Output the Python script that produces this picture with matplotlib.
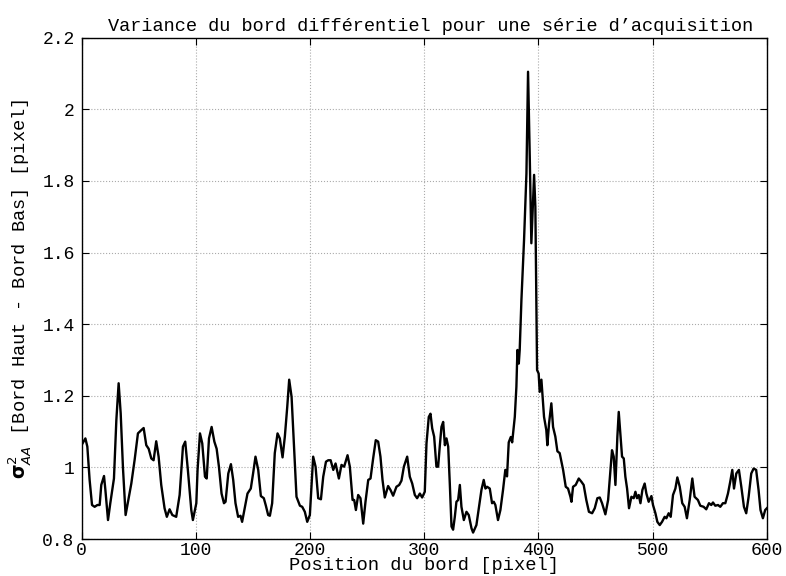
import matplotlib
matplotlib.use('Agg')
import matplotlib.pyplot as plt

# valeurs (position du bord, variance)
position = [
    0, 3.4, 5.1, 7.1, 9.2, 11.5, 13.9, 15.9, 17.3, 19.7, 20.9, 23.2, 25.2, 28.4, 30.5, 32.5, 34.3,
    36.3, 38.6, 40.7, 43.6, 46.5, 49.4, 52.3, 54.4, 56.7, 58.8, 61.1, 63.1, 65.4, 67.5, 69.8, 72.7,
    74.7, 77.1, 79.5, 82.9, 85.9, 88.8, 90.8, 93.1, 96.1, 97.5, 100.5, 101.6, 103.7, 105.7, 108.1,
    109.6, 111.6, 113.9, 116.3, 118.3, 120.3, 122.6, 124.7, 126.1, 128.5, 130.8, 132.8, 134.8,
    137.1, 139.2, 140.6, 142.9, 145.3, 148.2, 150.2, 152.3, 154.7, 157.0, 159.6, 161.4, 163.4,
    164.9, 166.9, 169.2, 171.6, 173.6, 176.0, 178.0, 180.1, 181.8, 183.9, 185.9, 188.2, 191.2,
    193.2, 195.5, 197.6, 199.9, 202.8, 204.9, 207.2, 209.6, 211.6, 214.0, 216.0, 218.1, 220.4,
    222.4, 225.3, 227.6, 229.9, 232.9, 234.9, 237.3, 238.7, 240.2, 242.2, 244.2, 246.6, 248.6,
    251.0, 253.0, 255.3, 257.6, 259.7, 261.7, 263.5, 265.5, 268.4, 270.5, 272.8, 275.7, 278.1,
    280.1, 282.2, 285.1, 287.4, 289.5, 291.8, 293.8, 296.2, 298.2, 300.5, 302.0, 304.0, 305.5,
    307.0, 308.7, 310.7, 312.2, 313.7, 315.1, 316.6, 318.1, 319.5, 321.0, 322.4, 323.9, 325.3,
    326.8, 328.2, 329.7, 331.2, 332.6, 334.7, 337.0, 339.0, 341.4, 342.8, 345.7, 347.8, 350.1,
    352.1, 353.6, 355.0, 357.4, 359.4, 360.9, 362.3, 364.6, 366.7, 369.0, 371.0, 372.5, 374.0,
    375.8, 377.0, 379.3, 380.7, 381.6, 382.8, 383.6, 385.1, 387.4, 389.5, 390.9, 392.4, 393.8,
    396.2, 397.3, 398.8, 400.2, 401.1, 402.6, 404.9, 406.9, 407.8, 409.3, 411.3, 412.8, 414.8,
    416.6, 418.6, 421.6, 423.9, 425.9, 428.0, 428.9, 430.3, 432.6, 435.3, 437.6, 439.6, 441.9,
    444.2, 447.0, 449.3, 451.6, 453.7, 455.7, 458.6, 461.0, 462.4, 464.4, 465.9, 467.4, 469.1,
    470.3, 471.7, 473.2, 474.7, 476.1, 477.6, 479.3, 481.4, 483.4, 484.9, 486.3, 487.8, 489.3,
    491.0, 493.0, 494.5, 496.5, 498.9, 500.3, 502.4, 504.1, 506.2, 508.2, 510.5, 512.0, 514.0,
    515.8, 517.8, 519.9, 521.6, 523.7, 525.9, 528.0, 530.0, 532.4, 534.7, 536.7, 539.6, 541.7,
    544.6, 546.9, 549.3, 551.3, 552.8, 554.8, 557.2, 559.2, 561.5, 563.6, 565.9, 567.9, 569.7,
    571.2, 573.2, 575.5, 577.6, 579.9, 581.9, 584.0, 586.3, 588.4, 590.6, 592.7, 594.4, 596.5,
    598.5, 600.0,
]
variance = [
    1.062, 1.081, 1.058, 0.965, 0.895, 0.890, 0.895, 0.895, 0.951, 0.976, 0.937, 0.853, 0.900,
    0.969, 1.132, 1.235, 1.151, 0.998, 0.867, 0.904, 0.955, 1.021, 1.095, 1.104, 1.110, 1.062,
    1.052, 1.025, 1.020, 1.073, 1.030, 0.951, 0.886, 0.862, 0.883, 0.867, 0.862, 0.923, 1.058,
    1.072, 0.993, 0.881, 0.853, 0.900, 0.993, 1.095, 1.067, 0.974, 0.969, 1.081, 1.113, 1.072,
    1.052, 1.002, 0.927, 0.900, 0.904, 0.983, 1.009, 0.965, 0.900, 0.862, 0.865, 0.848, 0.886,
    0.927, 0.941, 0.983, 1.030, 0.993, 0.920, 0.914, 0.893, 0.867, 0.865, 0.900, 1.040, 1.095,
    1.081, 1.028, 1.086, 1.169, 1.245, 1.197, 1.067, 0.918, 0.893, 0.890, 0.876, 0.848, 0.867,
    1.030, 1.002, 0.914, 0.911, 0.974, 1.016, 1.020, 1.020, 0.993, 1.011, 0.969, 1.007, 1.002,
    1.034, 1.002, 0.909, 0.909, 0.881, 0.923, 0.914, 0.843, 0.904, 0.965, 0.969, 1.025, 1.076,
    1.072, 1.030, 0.965, 0.916, 0.948, 0.937, 0.921, 0.946, 0.951, 0.963, 1.002, 1.030, 0.974,
    0.955, 0.923, 0.914, 0.927, 0.916, 0.932, 1.067, 1.141, 1.150, 1.109, 1.086, 1.002, 1.002,
    1.062, 1.113, 1.127, 1.062, 1.081, 1.058, 0.955, 0.835, 0.826, 0.862, 0.904, 0.909, 0.951,
    0.890, 0.853, 0.876, 0.867, 0.830, 0.818, 0.839, 0.886, 0.937, 0.965, 0.941, 0.946, 0.941,
    0.900, 0.904, 0.895, 0.853, 0.881, 0.937, 0.993, 0.975, 1.070, 1.085, 1.070, 1.141, 1.225,
    1.328, 1.290, 1.328, 1.467, 1.635, 1.821, 2.105, 1.868, 1.626, 1.817, 1.728, 1.272, 1.262,
    1.211, 1.245, 1.141, 1.104, 1.062, 1.123, 1.179, 1.113, 1.086, 1.045, 1.040, 0.993, 0.946,
    0.941, 0.918, 0.904, 0.946, 0.951, 0.969, 0.960, 0.951, 0.909, 0.876, 0.872, 0.886, 0.914,
    0.916, 0.900, 0.869, 0.909, 0.965, 1.048, 1.030, 0.951, 1.086, 1.155, 1.095, 1.030, 1.025,
    0.974, 0.941, 0.886, 0.918, 0.914, 0.932, 0.914, 0.923, 0.900, 0.937, 0.955, 0.927, 0.904,
    0.920, 0.895, 0.872, 0.848, 0.839, 0.848, 0.862, 0.858, 0.872, 0.862, 0.923, 0.941, 0.972,
    0.946, 0.900, 0.890, 0.858, 0.909, 0.969, 0.918, 0.909, 0.893, 0.890, 0.883, 0.900, 0.895,
    0.902, 0.893, 0.895, 0.890, 0.900, 0.900, 0.927, 0.960, 0.993, 0.941, 0.983, 0.993, 0.946,
    0.890, 0.872, 0.918, 0.983, 0.997, 0.993, 0.937, 0.881, 0.858, 0.881, 0.886,
]
xticks = [0, 100, 200, 300, 400, 500, 600]
yticks = [0.8, 1.0, 1.2, 1.4, 1.6, 1.8, 2.0, 2.2]
ytick_labels = ['0.8', '1', '1.2', '1.4', '1.6', '1.8', '2', '2.2']

plt.rcParams['font.family'] = ['Liberation Mono', 'DejaVu Sans Mono']
plt.rcParams['mathtext.fontset'] = 'dejavusans'

fig = plt.figure(figsize=(7.86, 5.76), dpi=100)
ax = fig.add_axes([0.1037, 0.0642, 0.872, 0.8703])

ax.plot(position, variance, color='black', linewidth=1.7)

ax.set_xlim(0, 600)
ax.set_ylim(0.8, 2.2)
ax.set_xticks(xticks)
ax.set_yticks(yticks)
ax.set_yticklabels(ytick_labels)
ax.grid(True, linestyle=':', color='#aaaaaa', linewidth=0.8)
ax.tick_params(direction='in', length=5, top=True, right=True, labelsize=13)
ax.tick_params(axis='x', pad=2)
ax.tick_params(axis='y', pad=5)
for s in ax.spines.values():
    s.set_linewidth(1.0)

ax.set_title("Variance du bord différentiel pour une série d’acquisition", fontsize=13.4, pad=5, x=0.51)
ax.set_xlabel('Position du bord [pixel]', fontsize=13.5, labelpad=-1)
ax.set_ylabel(r'$\mathbf{\sigma}^2_{AA}$ [Bord Haut - Bord Bas] [pixel]', fontsize=13.5, labelpad=7)

fig.savefig('out.png', dpi=100)
